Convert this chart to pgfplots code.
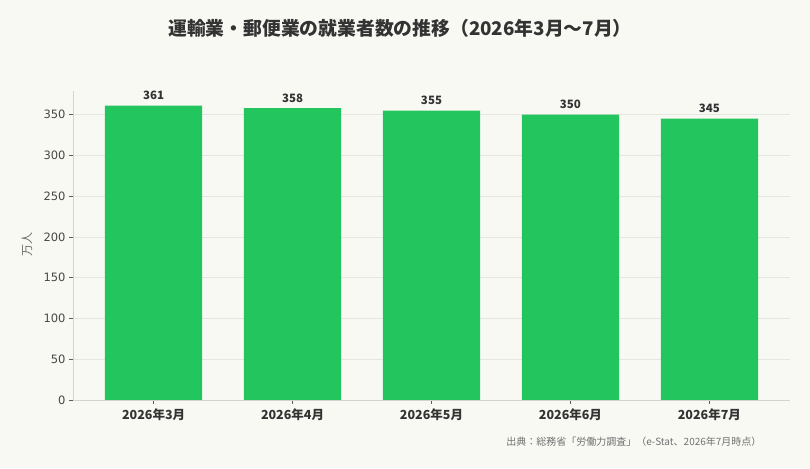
\documentclass[border=0pt]{standalone}
\usepackage{fontspec}
\setmainfont{Noto Sans CJK JP}
\newfontfamily\dejavu{DejaVu Sans}
\usepackage{pgfplots}
\pgfplotsset{compat=1.18}

\definecolor{bg}{HTML}{F9F9F4}
\definecolor{bargreen}{HTML}{22C55E}
\definecolor{txt}{HTML}{333333}
\definecolor{note}{HTML}{707070}
\definecolor{spine}{HTML}{D4D4CE}
\definecolor{gridc}{HTML}{E6E6E0}

\begin{document}
\begin{tikzpicture}
  % canvas in px-sized pt, origin bottom left
  \fill[bg] (0pt,0pt) rectangle (810pt,468pt);

  \node[font=\bfseries\fontsize{18.8}{18.8}\selectfont, text=txt] at (400pt,440pt)
    {運輸業・郵便業の就業者数の推移（2026年3月～7月）};

  \begin{axis}[
      at={(73pt,68pt)}, anchor=south west,
      width=717pt, height=309pt, scale only axis,
      xmin=-0.58, xmax=4.58, ymin=0, ymax=379,
      axis x line*=bottom, axis y line*=left,
      axis line style={spine, line width=0.8pt},
      ybar, bar width=0.7,
      xtick={0,...,4},
      xticklabels={2026年3月,2026年4月,2026年5月,2026年6月,2026年7月},
      ytick={0,50,...,350},
      tick align=outside, major tick length=4pt,
      tick style={txt!80, line width=0.6pt},
      xticklabel style={font=\bfseries\fontsize{12.5}{12.5}\selectfont, text=txt, yshift=-1pt},
      yticklabel style={font=\dejavu\fontsize{11.5}{11.5}\selectfont, text=txt!90},
      /pgf/number format/assume math mode=true,
      ymajorgrids, grid style={gridc, line width=0.6pt},
      ylabel={万人},
      every axis y label/.style={at={(-46pt,155pt)}, rotate=90, anchor=center,
        font=\fontsize{12}{12}\selectfont, text=note},
      nodes near coords,
      nodes near coords style={font=\bfseries\fontsize{11.5}{11.5}\selectfont, text=txt,
        inner sep=3pt, yshift=2.5pt},
      axis background/.style={fill=bg},
    ]
    \addplot[fill=bargreen, draw=none] coordinates {
      (0,361) (1,358) (2,355) (3,350) (4,345)
    };
  \end{axis}

  \node[font=\fontsize{10}{10}\selectfont, text=note, anchor=east] at (765pt,26pt)
    {出典：総務省「労働力調査」（e-Stat、2026年7月時点）};
\end{tikzpicture}
\end{document}
